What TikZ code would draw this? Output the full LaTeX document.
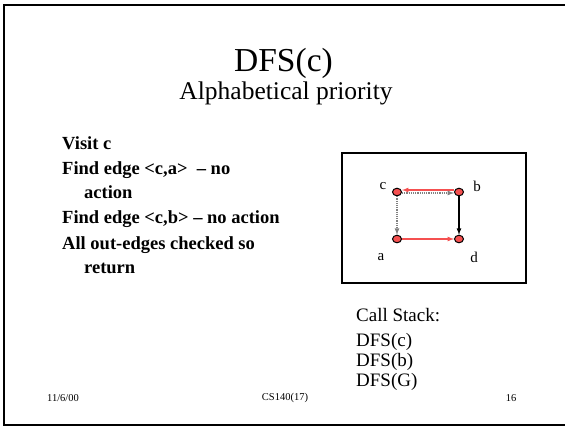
\documentclass[tikz,border=0pt]{standalone}
\usepackage{fontspec}
\setmainfont{Liberation Serif}
\usetikzlibrary{positioning, shapes.geometric}
\definecolor{vred}{RGB}{245,80,80}
\tikzset{
  vert/.style={ellipse, draw=black, fill=vred, line width=1pt, inner sep=0pt, minimum width=9pt, minimum height=7.5pt},
  vlabel/.style={font=\fontsize{15}{17}\selectfont, inner sep=0pt},
  tree/.style={vred, line width=1.2pt, -latex},
  back/.style={gray, densely dotted, line width=1.2pt, -latex},
  fwd/.style={black, line width=1.2pt, -latex},
  bullet/.style={anchor=west, font=\bfseries\fontsize{18.5}{20}\selectfont, inner sep=0pt},
  stack/.style={anchor=west, font=\fontsize{19}{21}\selectfont, inner sep=0pt},
  foot/.style={font=\fontsize{10.5}{12}\selectfont, inner sep=0pt}
}
\begin{document}
\begin{tikzpicture}[x=1pt, y=-1pt]
    \useasboundingbox (0, 0) rectangle (565, 429);
        % slide frame
        \draw[line width=2.5pt] (570, 5) -- (4, 5) -- (4, 425) -- (570, 425);
        \node (title) at (283.5, 63) {\fontsize{33.5}{36}\selectfont DFS(c)};
        \node (sub) at (286, 93) {\fontsize{25.5}{28}\selectfont Alphabetical priority};
        % steps
        \node[bullet] (s1) at (62, 143) {Visit c};
        \node[bullet] (s2) at (62, 170) {Find edge <c,a> \ – no};
        \node[bullet] (s2b) at (84, 192) {action};
        \node[bullet] (s3) at (62, 219) {Find edge <c,b> – no action};
        \node[bullet] (s4) at (62, 245) {All out-edges checked so};
        \node[bullet] (s4b) at (84, 268) {return};
        % graph
        \draw[line width=1.8pt] (342, 153) rectangle (526, 283);
        \node[vert] (c) at (397, 192) {};
        \node[vert] (b) at (459, 192) {};
        \node[vert] (a) at (397, 239) {};
        \node[vert] (d) at (459, 239) {};
        \node[vlabel] at (383, 186) {c};
        \node[vlabel] at (477, 186) {b};
        \node[vlabel] at (381, 257) {a};
        \node[vlabel] at (474, 257) {d};
        \draw[tree] ([yshift=2pt]b.west) -- ([yshift=2pt]c.east);
        \draw[back] ([yshift=-1pt]c.east) -- ([yshift=-1pt]b.west);
        \draw[back] (c) -- (a);
        \draw[fwd] (b) -- (d);
        \draw[tree] (a) -- (d);
        % call stack
        \node[stack] (cs) at (356, 315) {Call Stack:};
        \node[stack] (f1) at (356, 342) {DFS(c)};
        \node[stack] (f2) at (356, 362) {DFS(b)};
        \node[stack] (f3) at (356, 382) {DFS(G)};
        % footer
        \node[foot] (date) at (63, 398) {11/6/00};
        \node[foot] (course) at (285, 398) {CS140(17)};
        \node[foot] (page) at (511, 398) {16};
    \end{tikzpicture}
\end{document}
